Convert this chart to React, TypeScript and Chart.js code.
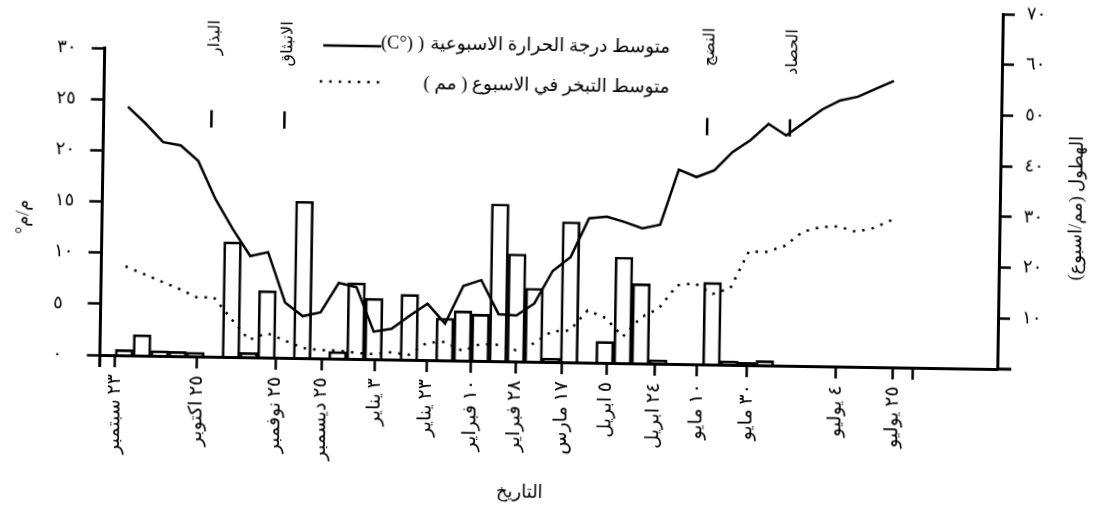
import React, { useEffect, useRef } from 'react';
import { Chart, registerables } from 'chart.js';

Chart.register(...registerables);

// Weekly means, week 0 = week of 23 September
const TEMP_C = [
  24.3, 22.7, 20.9, 20.6, 19.1, 15.4, 12.5, 9.9, 10.3, 5.4, 4.1, 4.5, 7.4, 7.0, 2.7,
  3.0, 4.3, 5.5, 3.6, 7.3, 7.9, 4.6, 4.5, 5.7, 8.9, 10.3, 14.1, 14.3, 13.8, 13.2,
  13.6, 19.0, 18.3, 19.0, 20.8, 22.0, 23.6, 22.5, 23.8, 25.1, 26.0, 26.4, 27.2, 28.0,
];

const EVAP_MM = [
  8.7, 8.0, 7.3, 6.6, 5.8, 5.8, 3.7, 1.7, 2.4, 1.7, 1.0, 0.8, 0.8, 0.6, 0.5,
  0.7, 0.5, 1.7, 1.8, 0.95, 1.65, 1.6, 1.1, 1.8, 3.0, 3.1, 5.1, 4.4, 2.6, 4.5,
  5.4, 7.7, 7.9, 6.9, 7.5, 11.1, 11.1, 11.7, 13.1, 13.6, 13.7, 13.2, 13.6, 14.4,
];

// Weekly rainfall (mm / week)
const RAIN_MM = [
  1.1, 4.1, 1.0, 0.9, 0.8, 0, 22.7, 0.9, 13.2, 0, 30.9, 0, 1.4, 15.0, 12.0,
  0, 12.9, 0, 8.3, 9.8, 9.2, 31.0, 21.2, 14.5, 0.75, 27.7, 0, 4.2, 20.9, 15.7,
  0.7, 0, 0, 16.2, 0.75, 0.55, 0.9,
];

// Date ticks along the week axis
const TICK_WEEKS = [-0.5, 4.1, 8.5, 11.1, 14.1, 17.0, 19.5, 22.0, 24.6, 27.1, 29.8, 32.2, 35.0, 40.0, 43.2, 44.3];
const TICK_LABELS = [
  '٢٣ سبتمبر', '٢٥ اكتوبر', '٢٥ نوفمبر', '٢٥ ديسمبر', '٣ يناير', '٢٣ يناير',
  '١٠ فبراير', '٢٨ فبراير', '١٧ مارس', '٥ ابريل', '٢٤ ابريل', '١٠ مايو',
  '٣٠ مايو', '٤ يوليو', '٢٥ يوليو', '',
];

const LEFT_TICKS = [0, 5, 10, 15, 20, 25, 30];
const RIGHT_TICKS = [10, 20, 30, 40, 50, 60, 70];

// Crop stages
const PHASE_WEEKS = [4.7, 8.8, 32.55, 37.2];
const PHASE_LABELS = ['البذار', 'الانبثاق', 'النضج', 'الحصاد'];

const LEGEND_TEMP_AR = 'متوسط درجة الحرارة الاسبوعية';
const LEGEND_TEMP_PAREN = ')';
const LEGEND_TEMP_UNIT = '(C°)';
const LEGEND_EVAP = 'متوسط التبخر في الاسبوع ( مم )';
const TITLE_LEFT = 'م/م°';
const TITLE_RIGHT = 'الهطول (مم/اسبوع)';
const TITLE_X = 'التاريخ';

const FONT = "'Liberation Serif', 'DejaVu Sans', serif";
const AR_DIGITS = '٠١٢٣٤٥٦٧٨٩';
const arabicNum = (v: number) => String(v).replace(/\d/g, (d) => AR_DIGITS[Number(d)]);
const toPoints = (arr: number[]) => arr.map((y, x) => ({ x, y }));

const EVAP_DASH = [2.5, 7];

const decorPlugin = {
  id: 'decor',
  afterDraw(chart: any) {
    const { ctx, chartArea: area, scales } = chart;
    const xs = scales.x;
    const yL = scales.yL;
    ctx.save();
    ctx.strokeStyle = '#000';
    ctx.fillStyle = '#000';
    ctx.lineCap = 'butt';

    // left axis runs from the 30 tick down past the base line
    ctx.lineWidth = 3;
    ctx.beginPath();
    ctx.moveTo(area.left, yL.getPixelForValue(30) - 1.5);
    ctx.lineTo(area.left, area.bottom + 12);
    ctx.stroke();

    // base line continues a little beyond the right axis
    ctx.beginPath();
    ctx.moveTo(area.right, area.bottom);
    ctx.lineTo(area.right + 14, area.bottom);
    ctx.stroke();

    // crop stage markers with their vertical labels
    ctx.lineWidth = 2.5;
    PHASE_WEEKS.forEach((w, i) => {
      const px = xs.getPixelForValue(w);
      ctx.beginPath();
      ctx.moveTo(px, yL.getPixelForValue(24.1));
      ctx.lineTo(px, yL.getPixelForValue(22.4));
      ctx.stroke();
      ctx.save();
      ctx.translate(px + 2, yL.getPixelForValue(32.9));
      ctx.rotate(-Math.PI / 2);
      ctx.font = `16px ${FONT}`;
      ctx.textAlign = 'right';
      ctx.textBaseline = 'middle';
      ctx.fillText(PHASE_LABELS[i], 0, 0);
      ctx.restore();
    });

    // legend
    ctx.lineWidth = 2.5;
    ctx.beginPath();
    ctx.moveTo(320, 49);
    ctx.lineTo(378, 49);
    ctx.stroke();
    ctx.setLineDash(EVAP_DASH);
    ctx.beginPath();
    ctx.moveTo(317, 85);
    ctx.lineTo(381, 85);
    ctx.stroke();
    ctx.setLineDash([]);

    ctx.font = `18.5px ${FONT}`;
    ctx.textBaseline = 'middle';
    ctx.textAlign = 'right';
    ctx.direction = 'rtl';
    ctx.fillText(LEGEND_TEMP_AR, 667, 46);
    const arW = ctx.measureText(LEGEND_TEMP_AR).width;
    ctx.direction = 'ltr';
    const parenRight = 667 - arW - 6;
    ctx.fillText(LEGEND_TEMP_PAREN, parenRight, 46);
    const parenW = ctx.measureText(LEGEND_TEMP_PAREN).width;
    ctx.fillText(LEGEND_TEMP_UNIT, parenRight - parenW - 5, 46);
    ctx.direction = 'rtl';
    ctx.fillText(LEGEND_EVAP, 667, 86);

    // axis titles
    ctx.font = `18px ${FONT}`;
    ctx.textAlign = 'center';
    ctx.save();
    ctx.translate(23, 225);
    ctx.rotate(-Math.PI / 2);
    ctx.fillText(TITLE_LEFT, 0, 0);
    ctx.restore();

    ctx.save();
    ctx.translate(1076, 200);
    ctx.rotate(-Math.PI / 2);
    ctx.fillText(TITLE_RIGHT, 0, 0);
    ctx.restore();

    ctx.fillText(TITLE_X, 523, 493);
    ctx.restore();
  },
};

const noEdgePadding = (s: any) => {
  s.paddingTop = 0;
  s.paddingBottom = 0;
  s.paddingLeft = 0;
  s.paddingRight = 0;
};

export default function App() {
  const canvasRef = useRef<HTMLCanvasElement | null>(null);

  useEffect(() => {
    const canvas = canvasRef.current;
    if (!canvas) return;

    const tickGrid = (len: number) => ({
      drawOnChartArea: false,
      drawTicks: true,
      tickLength: len,
      tickWidth: 2.5,
      tickColor: '#000',
      color: '#000',
      offset: false,
    });

    const chart = new Chart(canvas, {
      type: 'bar',
      data: {
        datasets: [
          {
            type: 'line',
            label: 'temperature',
            data: toPoints(TEMP_C),
            yAxisID: 'yL',
            borderColor: '#000',
            borderWidth: 2.5,
            pointRadius: 0,
            tension: 0,
            fill: false,
            order: 0,
          },
          {
            type: 'line',
            label: 'evaporation',
            data: toPoints(EVAP_MM),
            yAxisID: 'yL',
            borderColor: '#000',
            borderWidth: 2.5,
            borderDash: EVAP_DASH,
            pointRadius: 0,
            tension: 0,
            fill: false,
            order: 0,
          },
          {
            type: 'bar',
            label: 'rainfall',
            data: toPoints(RAIN_MM),
            yAxisID: 'yR',
            backgroundColor: 'rgba(255,255,255,0)',
            borderColor: '#000',
            borderWidth: 2,
            barPercentage: 1,
            categoryPercentage: 1,
            order: 1,
          },
        ],
      } as any,
      options: {
        animation: false,
        responsive: false,
        devicePixelRatio: 1,
        layout: { padding: { left: 54, right: 41, top: 7, bottom: 0 } },
        plugins: {
          legend: { display: false },
          tooltip: { enabled: false },
        },
        scales: {
          x: {
            type: 'linear',
            min: -1.36,
            max: 49.06,
            offset: false,
            afterBuildTicks: (s: any) => {
              s.ticks = TICK_WEEKS.map((value) => ({ value }));
            },
            afterFit: (s: any) => {
              s.height = 148;
              noEdgePadding(s);
            },
            grid: tickGrid(12),
            border: { display: true, color: '#000', width: 3 },
            ticks: {
              autoSkip: false,
              minRotation: 90,
              maxRotation: 90,
              padding: 7,
              color: '#000',
              font: { family: FONT, size: 19 },
              callback: (_v: any, i: number) => TICK_LABELS[i],
            },
          },
          yL: {
            type: 'linear',
            position: 'left',
            min: 0,
            max: 34.7,
            afterBuildTicks: (s: any) => {
              s.ticks = LEFT_TICKS.map((value) => ({ value }));
            },
            afterFit: (s: any) => {
              s.width = 47.5;
              noEdgePadding(s);
            },
            grid: tickGrid(13),
            border: { display: false },
            ticks: {
              crossAlign: 'far',
              padding: 0,
              color: '#000',
              font: { family: FONT, size: 18 },
              callback: (v: any) => arabicNum(v),
            },
          },
          yR: {
            type: 'linear',
            position: 'right',
            min: 0,
            max: 70,
            afterBuildTicks: (s: any) => {
              s.ticks = RIGHT_TICKS.map((value) => ({ value }));
            },
            afterFit: (s: any) => {
              s.width = 60;
              noEdgePadding(s);
            },
            grid: tickGrid(12),
            border: { display: true, color: '#000', width: 3 },
            ticks: {
              crossAlign: 'near',
              padding: 12,
              color: '#000',
              font: { family: FONT, size: 18 },
              callback: (v: any) => arabicNum(v),
            },
          },
        },
      } as any,
      plugins: [decorPlugin],
    });

    return () => chart.destroy();
  }, []);

  return (
    <div style={{ position: 'fixed', left: 0, top: 0, width: 1100, height: 510, background: '#fff', overflow: 'hidden' }}>
      <canvas
        ref={canvasRef}
        width={1100}
        height={510}
        style={{ display: 'block', transform: 'rotate(0.9deg)', transformOrigin: '550px 255px' }}
      />
    </div>
  );
}
